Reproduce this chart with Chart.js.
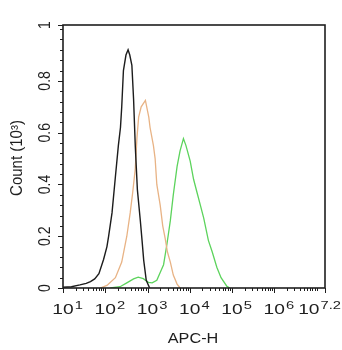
<!DOCTYPE html>
<html lang="en">
<head>
    <meta charset="UTF-8">
    <title>APC-H histogram</title>
    <script src="https://cdn.jsdelivr.net/npm/chart.js"></script>
    <style>
        body { margin: 0; background: #fff; }
        #wrap { width: 342px; height: 350px; position: relative; }
    </style>
</head>
<body>
    <div id="wrap"><canvas id="histChart"></canvas></div>
    <script>
        // x values are log10 of APC-H, y values are counts in thousands
        const blackX = [1.00, 1.20, 1.40, 1.55, 1.65, 1.75, 1.85, 1.96, 2.04, 2.08, 2.16, 2.24, 2.31, 2.36, 2.39, 2.43, 2.49, 2.54, 2.58, 2.63, 2.67, 2.71, 2.76, 2.83, 2.87, 2.91, 2.97, 3.05];
        const blackY = [0.003, 0.005, 0.012, 0.018, 0.025, 0.035, 0.055, 0.11, 0.16, 0.2, 0.29, 0.43, 0.55, 0.62, 0.70, 0.84, 0.90, 0.92, 0.90, 0.86, 0.73, 0.55, 0.38, 0.26, 0.185, 0.107, 0.03, 0.0];

        const orangeX = [1.88, 2.04, 2.24, 2.39, 2.51, 2.59, 2.65, 2.71, 2.75, 2.79, 2.85, 2.95, 3.03, 3.06, 3.14, 3.18, 3.22, 3.30, 3.36, 3.42, 3.47, 3.54, 3.61, 3.70, 3.77];
        const orangeY = [0.0, 0.01, 0.04, 0.1, 0.2, 0.29, 0.37, 0.46, 0.58, 0.66, 0.70, 0.725, 0.66, 0.62, 0.55, 0.50, 0.40, 0.32, 0.24, 0.19, 0.14, 0.10, 0.05, 0.015, 0.0];

        const greenX = [2.12, 2.35, 2.51, 2.67, 2.78, 2.90, 3.02, 3.11, 3.22, 3.30, 3.38, 3.46, 3.54, 3.61, 3.70, 3.77, 3.85, 3.91, 4.01, 4.09, 4.17, 4.25, 4.33, 4.44, 4.53, 4.64, 4.74, 4.88, 4.95];
        const greenY = [0.0, 0.005, 0.02, 0.035, 0.042, 0.036, 0.022, 0.02, 0.03, 0.06, 0.09, 0.17, 0.26, 0.36, 0.47, 0.53, 0.577, 0.55, 0.49, 0.42, 0.37, 0.32, 0.27, 0.184, 0.14, 0.08, 0.04, 0.006, 0.0];

        // axis ticks
        const xMajor = [1, 2, 3, 4, 5, 6, 7.2];
        const xLabelExp = ['1', '2', '3', '4', '5', '6', '7.2'];
        const yMajor = [0, 0.2, 0.4, 0.6, 0.8];
        const yLabels = ['0', '0.2', '0.4', '0.6', '0.8'];
        const yTop = 1.016;

        const font = '"Liberation Sans", Arial, sans-serif';
        const ink = '#1e1e1e';
        const stretch = 1.28; // the source image text is wide

        function pts(xs, ys) {
            return xs.map((x, i) => ({ x: x, y: ys[i] }));
        }

        const axesPlugin = {
            id: 'axesPlugin',
            afterDraw(chart) {
                const ctx = chart.ctx;
                const a = chart.chartArea;
                const xs = chart.scales.x;
                const ys = chart.scales.y;
                ctx.save();
                ctx.strokeStyle = ink;
                ctx.fillStyle = ink;

                // frame
                ctx.lineWidth = 1.6;
                ctx.strokeRect(Math.round(a.left), Math.round(a.top),
                    Math.round(a.right - a.left), Math.round(a.bottom - a.top));

                ctx.lineWidth = 1;
                function hTick(v, len) {
                    const p = Math.round(ys.getPixelForValue(v)) + 0.5;
                    ctx.beginPath();
                    ctx.moveTo(a.left, p);
                    ctx.lineTo(a.left - len, p);
                    ctx.stroke();
                }
                function vTick(v, len) {
                    const p = Math.round(xs.getPixelForValue(v)) + 0.5;
                    ctx.beginPath();
                    ctx.moveTo(p, a.bottom);
                    ctx.lineTo(p, a.bottom + len);
                    ctx.stroke();
                }

                // y ticks
                for (let k = 1; k <= 25; k++) {
                    if (k % 5 !== 0) hTick(k * 0.04, 3);
                }
                hTick(1.0, 3);
                yMajor.forEach(v => hTick(v, 5));
                hTick(yTop, 5);

                // x ticks (log minor)
                for (let d = 1; d <= 7; d++) {
                    for (let m = 2; m <= 9; m++) {
                        const v = d + Math.log10(m);
                        if (v < 7.2) vTick(v, 3);
                    }
                }
                vTick(7, 3);
                xMajor.forEach(v => vTick(v, 5));

                // y labels, rotated
                ctx.font = '14px ' + font;
                ctx.textAlign = 'center';
                ctx.textBaseline = 'alphabetic';
                const yl = yLabels.concat(['1']);
                const yv = yMajor.concat([yTop]);
                yv.forEach((v, i) => {
                    ctx.save();
                    ctx.translate(50, ys.getPixelForValue(v));
                    ctx.rotate(-Math.PI / 2);
                    ctx.scale(1, 1.22);
                    ctx.fillText(yl[i], 0, 0);
                    ctx.restore();
                });

                // y title
                ctx.save();
                ctx.font = '15px ' + font;
                ctx.translate(21.5, 158);
                ctx.rotate(-Math.PI / 2);
                ctx.scale(1, 1.08);
                ctx.fillText('Count (10³)', 0, 0);
                ctx.restore();

                // x labels: "10" centred on the tick, exponent to its right
                ctx.textAlign = 'left';
                xMajor.forEach((v, i) => {
                    ctx.font = '15px ' + font;
                    const wb = ctx.measureText('10').width * stretch;
                    ctx.font = '11.5px ' + font;
                    const we = ctx.measureText(xLabelExp[i]).width * stretch;
                    let left = xs.getPixelForValue(v) - wb / 2;
                    if (left + wb + we + 1 > chart.width - 1) left = chart.width - 1 - (wb + we + 1);
                    ctx.save();
                    ctx.translate(left, 314);
                    ctx.scale(stretch, 1);
                    ctx.font = '15px ' + font;
                    ctx.fillText('10', 0, 0);
                    ctx.restore();
                    ctx.save();
                    ctx.translate(left + wb + 1, 308.5);
                    ctx.scale(stretch, 1);
                    ctx.font = '11.5px ' + font;
                    ctx.fillText(xLabelExp[i], 0, 0);
                    ctx.restore();
                });

                // x title
                ctx.save();
                ctx.font = '14.5px ' + font;
                ctx.textAlign = 'center';
                ctx.translate(193, 343);
                ctx.scale(1.12, 1);
                ctx.fillText('APC-H', 0, 0);
                ctx.restore();

                ctx.restore();
            }
        };

        const data = {
            datasets: [
                { data: pts(blackX, blackY), borderColor: '#1c1c1c', borderWidth: 1.4 },
                { data: pts(orangeX, orangeY), borderColor: '#e8b385', borderWidth: 1.3 },
                { data: pts(greenX, greenY), borderColor: '#5cd35c', borderWidth: 1.3 }
            ]
        };

        const config = {
            type: 'line',
            data: data,
            options: {
                responsive: true,
                maintainAspectRatio: false,
                animation: false,
                layout: { padding: { top: 25, right: 17, left: 0, bottom: 0 } },
                elements: {
                    point: { radius: 0, hoverRadius: 0 },
                    line: { tension: 0, fill: false }
                },
                scales: {
                    x: {
                        type: 'linear',
                        min: 1,
                        max: 7.2,
                        grid: { display: false },
                        border: { display: false },
                        ticks: { display: false },
                        afterFit(s) { s.height = 62; }
                    },
                    y: {
                        min: 0,
                        max: yTop,
                        grid: { display: false },
                        border: { display: false },
                        ticks: { display: false },
                        afterFit(s) { s.width = 63; }
                    }
                },
                plugins: {
                    legend: { display: false },
                    tooltip: { enabled: false }
                }
            },
            plugins: [axesPlugin]
        };

        const histChart = new Chart(document.getElementById('histChart'), config);
    </script>
</body>
</html>
